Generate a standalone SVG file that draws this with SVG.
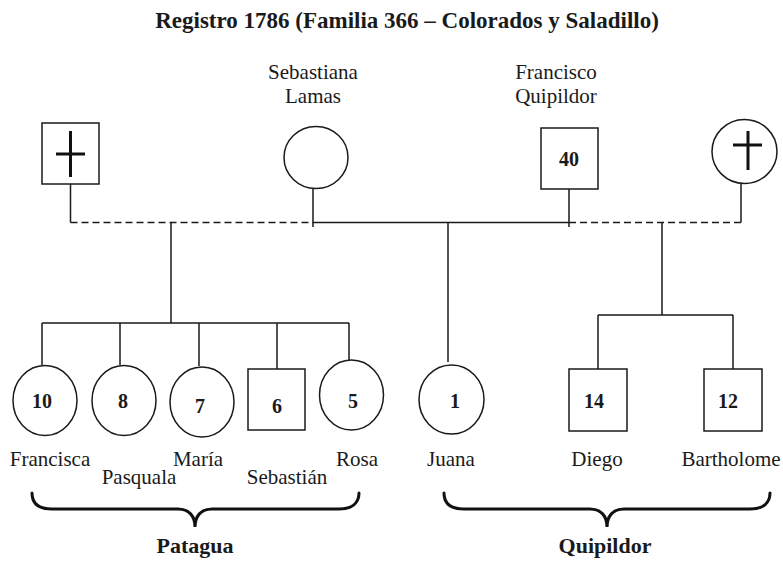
<svg xmlns="http://www.w3.org/2000/svg" width="783" height="563" viewBox="0 0 783 563">
<style>
text{font-family:"Liberation Serif","Times New Roman",serif;fill:#1a1a1a;text-anchor:middle}
.t{font-size:23px;font-weight:bold}
.n{font-size:21px}
.d{font-size:20px;font-weight:bold}
.g{font-size:22px;font-weight:bold}
.s{fill:#fff;stroke:#1a1a1a;stroke-width:1.5}
.l{stroke:#1a1a1a;stroke-width:1.5;fill:none}
.dash{stroke-dasharray:7 4}
.x{stroke:#111;stroke-width:3;fill:none}
.b{stroke:#111;stroke-width:3;fill:none;stroke-linecap:round}
</style>
<rect width="783" height="563" fill="#fff"/>
<text class="t" x="407" y="28">Registro 1786 (Familia 366 – Colorados y Saladillo)</text>
<g id="connectors">
<path class="l" d="M70.5,184V222.5M313,188V227M569,189V227M741,183V222.5"/>
<path class="l dash" d="M70.5,222.5H313M569,222.5H741"/>
<path class="l" d="M313,222.5H569"/>
<path class="l" d="M171,222.5V323M448,222.5V362M662,222.5V315"/>
<path class="l" d="M42,323H349M42,323V365M120,323V365M199,323V366M277,323V369M349,323V360"/>
<path class="l" d="M598,315H733M598,315V369M733,315V369"/>
</g>
<g id="p-left-father">
<rect class="s" x="42" y="123" width="57" height="61"/>
<path class="x" d="M70.5,131V177M56,154H85"/>
</g>
<g id="p-sebastiana">
<text class="n" x="313" y="79">Sebastiana</text>
<text class="n" x="313" y="103">Lamas</text>
<ellipse class="s" cx="316" cy="157.5" rx="32" ry="31"/>
</g>
<g id="p-francisco">
<text class="n" x="556" y="79">Francisco</text>
<text class="n" x="556" y="103">Quipildor</text>
<rect class="s" x="541" y="128" width="57" height="61"/>
<text class="d" x="569" y="166">40</text>
</g>
<g id="p-right-mother">
<ellipse class="s" cx="744.5" cy="151.5" rx="32.5" ry="32"/>
<path class="x" d="M748,131V170M733,145H762"/>
</g>
<g id="c-francisca">
<ellipse class="s" cx="45" cy="400.5" rx="32" ry="35"/>
<text class="d" x="42" y="408">10</text>
<text class="n" x="50" y="466">Francisca</text>
</g>
<g id="c-pasquala">
<ellipse class="s" cx="124" cy="400.5" rx="32" ry="35"/>
<text class="d" x="123" y="408">8</text>
<text class="n" x="139" y="484">Pasquala</text>
</g>
<g id="c-maria">
<ellipse class="s" cx="202" cy="402" rx="32" ry="35"/>
<text class="d" x="200" y="413">7</text>
<text class="n" x="198" y="466">María</text>
</g>
<g id="c-sebastian">
<rect class="s" x="248" y="369" width="57" height="61"/>
<text class="d" x="277" y="413">6</text>
<text class="n" x="287" y="484">Sebastián</text>
</g>
<g id="c-rosa">
<ellipse class="s" cx="351.5" cy="395" rx="32" ry="35"/>
<text class="d" x="353" y="408">5</text>
<text class="n" x="357" y="466">Rosa</text>
</g>
<g id="c-juana">
<ellipse class="s" cx="451.5" cy="399.5" rx="32.5" ry="34.5"/>
<text class="d" x="455" y="408">1</text>
<text class="n" x="451" y="466">Juana</text>
</g>
<g id="c-diego">
<rect class="s" x="569" y="369" width="58" height="62"/>
<text class="d" x="594" y="408">14</text>
<text class="n" x="597" y="466">Diego</text>
</g>
<g id="c-bartholome">
<rect class="s" x="704" y="369" width="58" height="62"/>
<text class="d" x="728" y="408">12</text>
<text class="n" x="731" y="466">Bartholome</text>
</g>
<g id="brace-patagua">
<path class="b" d="M32,493C32,503 38,509 52,509H178C189,509 195,516 195,527C195,516 201,509 212,509H339C352,509 359,503 359,493"/>
<text class="g" x="195" y="553">Patagua</text>
</g>
<g id="brace-quipildor">
<path class="b" d="M444,493C444,503 450,509 464,509H590C601,509 607,516 607,527C607,516 613,509 624,509H750C763,509 770,503 770,493"/>
<text class="g" x="605" y="553">Quipildor</text>
</g>
</svg>
